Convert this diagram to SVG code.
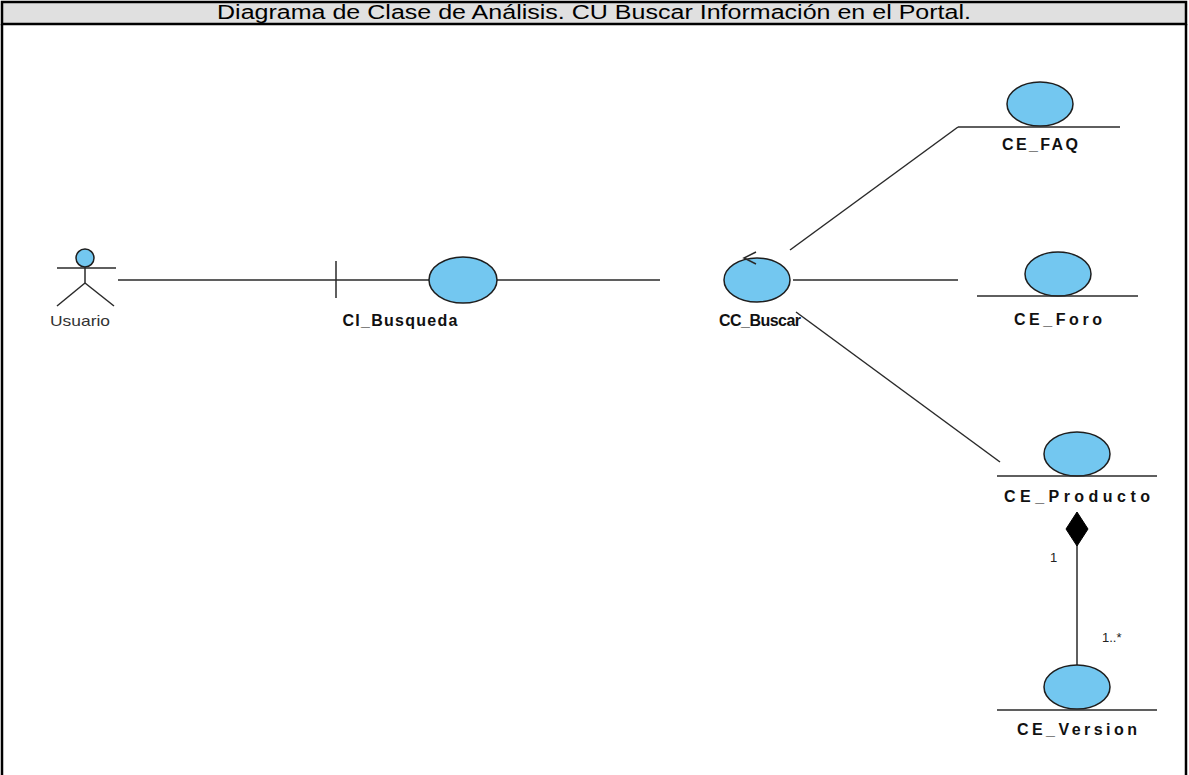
<svg xmlns="http://www.w3.org/2000/svg" width="1189" height="775" viewBox="0 0 1189 775">
  <style>
    .frame { fill: none; stroke: #000; stroke-width: 2.5; }
    .hdr { fill: #e0e0e0; stroke: #000; stroke-width: 2.5; }
    .title { font-family: "Liberation Sans", Arial, sans-serif; font-size: 20px; fill: #000; text-anchor: middle; }
    .ln { stroke: #2a2a2a; stroke-width: 1.5; fill: none; }
    .ball { fill: #73c7f0; stroke: #1e1e1e; stroke-width: 1.5; }
    .lbl { font-family: "Liberation Sans", Arial, sans-serif; font-size: 16px; font-weight: bold; fill: #111; text-anchor: middle; }
    .act { font-family: "Liberation Sans", Arial, sans-serif; font-size: 15px; fill: #333; text-anchor: middle; }
    .mult { font-family: "Liberation Sans", Arial, sans-serif; font-size: 13px; fill: #222; }
  </style>

  <!-- table frame with header row -->
  <g id="frame">
    <rect class="hdr" x="2" y="2" width="1184" height="22"/>
    <line class="frame" x1="2" y1="24" x2="2" y2="775"/>
    <line class="frame" x1="1186" y1="24" x2="1186" y2="775"/>
    <text class="title" x="594" y="19" textLength="754" lengthAdjust="spacingAndGlyphs">Diagrama de Clase de Análisis. CU Buscar Información en el Portal.</text>
  </g>

  <!-- associations -->
  <g id="connectors">
    <line class="ln" x1="118" y1="280" x2="336" y2="280"/>
    <line class="ln" x1="497" y1="280" x2="660" y2="280"/>
    <line class="ln" x1="790" y1="250" x2="958" y2="127"/>
    <line class="ln" x1="793" y1="280" x2="958" y2="280"/>
    <line class="ln" x1="796" y1="312" x2="1000" y2="462"/>
    <line class="ln" x1="1077" y1="545" x2="1077" y2="665"/>
    <polygon points="1077,512 1088,529 1077,546 1066,529" fill="#000" stroke="#000" stroke-width="1"/>
    <text class="mult" x="1050" y="562">1</text>
    <text class="mult" x="1102" y="642">1..*</text>
  </g>

  <!-- actor -->
  <g id="usuario">
    <circle class="ball" cx="85" cy="258" r="9"/>
    <line class="ln" x1="57" y1="268" x2="116" y2="268"/>
    <line class="ln" x1="85" y1="267" x2="85" y2="283"/>
    <line class="ln" x1="85" y1="283" x2="57" y2="306"/>
    <line class="ln" x1="85" y1="283" x2="114" y2="306"/>
    <text class="act" x="80" y="326" textLength="60" lengthAdjust="spacingAndGlyphs">Usuario</text>
  </g>

  <!-- boundary -->
  <g id="ci_busqueda">
    <line class="ln" x1="336" y1="261" x2="336" y2="298"/>
    <line class="ln" x1="336" y1="280" x2="429" y2="280"/>
    <ellipse class="ball" cx="463" cy="280" rx="34" ry="23"/>
    <text class="lbl" x="400" y="326" textLength="115" lengthAdjust="spacing">CI_Busqueda</text>
  </g>

  <!-- control -->
  <g id="cc_buscar">
    <ellipse class="ball" cx="757" cy="280" rx="33" ry="22"/>
    <polyline class="ln" points="756,252 744,258 756,264"/>
    <text class="lbl" x="760" y="326" textLength="82" lengthAdjust="spacing">CC_Buscar</text>
  </g>

  <!-- entities -->
  <g id="ce_faq">
    <ellipse class="ball" cx="1040" cy="104" rx="33" ry="22"/>
    <line class="ln" x1="958" y1="127" x2="1120" y2="127"/>
    <text class="lbl" x="1040" y="150" textLength="76" lengthAdjust="spacing">CE_FAQ</text>
  </g>

  <g id="ce_foro">
    <ellipse class="ball" cx="1058" cy="274" rx="33" ry="22"/>
    <line class="ln" x1="977" y1="296" x2="1138" y2="296"/>
    <text class="lbl" x="1058" y="325" textLength="88" lengthAdjust="spacing">CE_Foro</text>
  </g>

  <g id="ce_producto">
    <ellipse class="ball" cx="1077" cy="454" rx="33" ry="22"/>
    <line class="ln" x1="997" y1="476" x2="1157" y2="476"/>
    <text class="lbl" x="1077" y="502" textLength="146" lengthAdjust="spacing">CE_Producto</text>
  </g>

  <g id="ce_version">
    <ellipse class="ball" cx="1077" cy="687" rx="33" ry="22"/>
    <line class="ln" x1="997" y1="710" x2="1157" y2="710"/>
    <text class="lbl" x="1077" y="735" textLength="120" lengthAdjust="spacing">CE_Version</text>
  </g>
</svg>
